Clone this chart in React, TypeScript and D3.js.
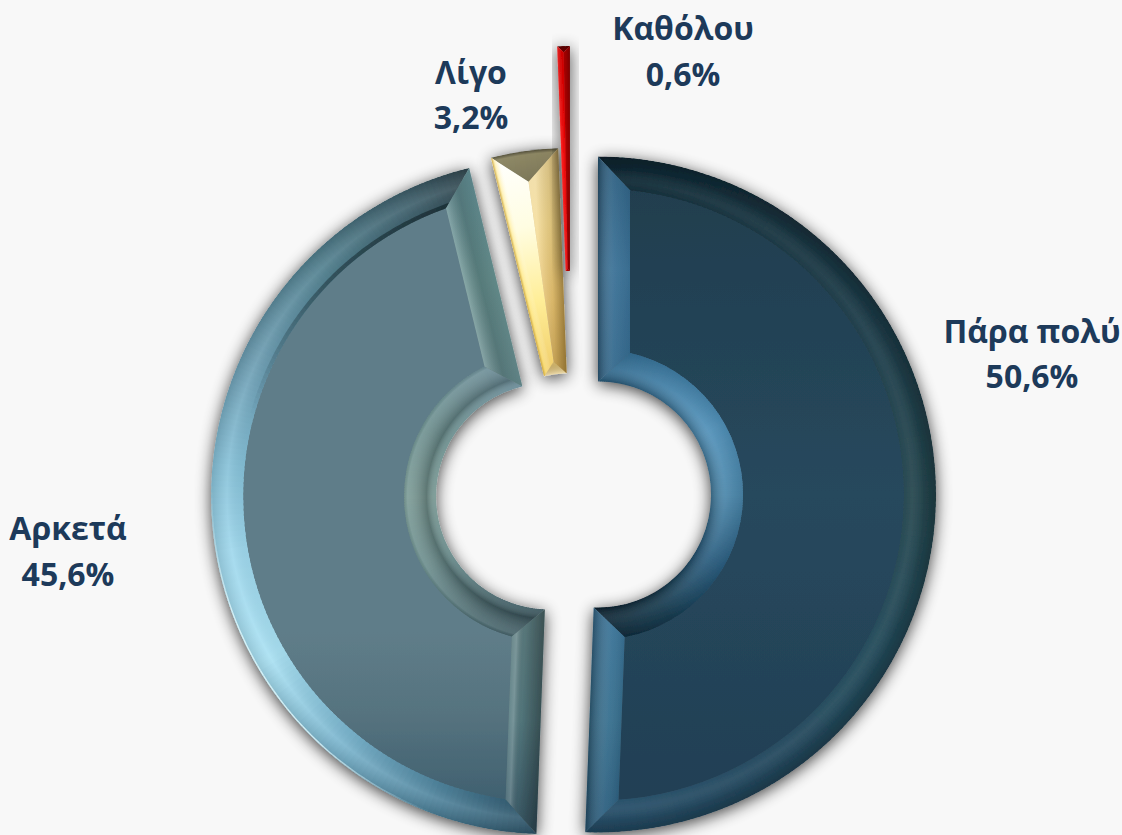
import React from 'react'
import * as d3 from 'd3'

const categories = ['Πάρα πολύ', 'Αρκετά', 'Λίγο', 'Καθόλου']
const values = [50.6, 45.6, 3.2, 0.6]
const valueLabels = ['50,6%', '45,6%', '3,2%', '0,6%']

const WIDTH = 1122
const HEIGHT = 835
const CENTER_X = 572
const CENTER_Y = 494
const OUTER_R = 338
const INNER_R = 113
const BEVEL = 32

// how far each slice is pulled out of the ring
const explode = [26, 23, 8, 110]

// label anchor and the two baselines
const labelPos = [
  { x: 1032, y1: 343, y2: 388 },
  { x: 68, y1: 540, y2: 586 },
  { x: 471, y1: 84, y2: 129 },
  { x: 683, y1: 40, y2: 86 },
]

type Stop = [number, string, number]

// bevel looks, one entry per slice
// ramps are [screen angle in degrees, colour]
const looks: any[] = [
  {
    face: [[0, '#1f3d4d'], [0.5, '#27485d'], [1, '#213f54']],
    outer: [[0, '#0e2733'], [30, '#17333f'], [60, '#1e3d4a'], [90, '#25474f'], [120, '#234a5a'], [150, '#24495f'], [183, '#27506b']],
    inner: [[0, '#2c6488'], [30, '#3f7ca3'], [60, '#5090b8'], [90, '#4a86aa'], [120, '#2a5d7f'], [150, '#15394d'], [183, '#0c2230']],
    outerCross: [[0, '#000', 0.25], [0.35, '#000', 0.1], [0.75, '#fff', 0.06], [1, '#fff', 0.02]],
    innerCross: [[0, '#000', 0.25], [0.45, '#fff', 0.08], [1, '#000', 0.08]],
    startEdge: { along: ['#2d5f80', '#3c7297', '#33688c'], cross: [[0, '#000', 0.3], [0.5, '#fff', 0.05], [1, '#000', 0.05]], width: BEVEL },
    endEdge: { along: ['#2a5c7c', '#38708f', '#3a7398'], cross: [[0, '#000', 0.3], [0.6, '#fff', 0.05], [1, '#000', 0.08]], width: BEVEL },
  },
  {
    face: [[0, '#5f7d89'], [0.7, '#5f7d89'], [0.82, '#56737f'], [1, '#37596a']],
    outer: [[182, '#2c5266'], [200, '#4d819a'], [220, '#79b4cd'], [240, '#a8e0f2'], [260, '#9ed7ec'], [275, '#86c1d8'], [295, '#6a9bb0'], [315, '#51808f'], [335, '#3d5e6a'], [347, '#2f444c']],
    inner: [[182, '#3d5860'], [210, '#4b696f'], [240, '#6a8c8c'], [270, '#7a9a95'], [300, '#6d9090'], [330, '#6d8f97'], [347, '#6a8c99']],
    outerCross: [[0, '#000', 0.12], [0.5, '#fff', 0.1], [1, '#000', 0.04]],
    innerCross: [[0, '#fff', 0.05], [0.3, '#000', 0.22], [0.9, '#fff', 0.1], [1, '#000', 0.05]],
    startEdge: { along: ['#3a5a68', '#557a80', '#5d7d80'], cross: [[0, '#000', 0.35], [0.6, '#000', 0.05], [0.85, '#fff', 0.2], [1, '#fff', 0.1]], width: BEVEL },
    endEdge: { along: ['#5f8a90', '#66908f', '#64898c'], cross: [[0, '#000', 0.05], [0.5, '#000', 0.15], [1, '#fff', 0.22]], width: BEVEL },
    // thin light rim on the lit side, dark crease where the top bevel meets the face
    rim: [[200, 'rgba(225,248,252,0)'], [225, 'rgba(225,248,252,0.85)'], [250, 'rgba(225,248,252,0.85)'], [272, 'rgba(225,248,252,0)']],
    crease: [[285, 'rgba(15,30,35,0)'], [315, 'rgba(15,30,35,0.45)'], [340, 'rgba(15,30,35,0.6)']],
  },
  {
    face: [[0, '#fff4c8'], [1, '#fff4c8']],
    outer: [[346, '#8f8a68'], [358, '#8a8360']],
    inner: [[346, '#dcbc6c'], [358, '#e3c574']],
    outerCross: [[0, '#000', 0.4], [0.12, '#000', 0], [1, '#000', 0.12]],
    innerCross: [[0, '#fff', 0.4], [1, '#000', 0.05]],
    startEdge: { along: ['#ffffff', '#fffde2', '#ffee98', '#f0cc68'], cross: [[0, '#c9a23a', 0.95], [0.1, '#ffe680', 0.5], [0.35, '#fff', 0], [1, '#fff', 0]], width: 26 },
    endEdge: { along: ['#ecd79c', '#f3d98f', '#eeca78', '#d0ab5c'], cross: [[0, '#5e4410', 0.55], [0.45, '#5e4410', 0.15], [1, '#fff', 0.2]], width: 24 },
  },
  {
    face: [[0, '#d80000'], [1, '#d80000']],
    outer: [[357, '#6a0000'], [361, '#6a0000']],
    inner: [[357, '#b00000'], [361, '#b00000']],
    outerCross: [[0, '#000', 0.2], [1, '#000', 0]],
    innerCross: [[0, '#000', 0], [1, '#000', 0]],
    startEdge: { along: ['#e00000', '#ff0000', '#f00000'], cross: [[0, '#fff', 0.15], [1, '#000', 0.1]], width: 5 },
    endEdge: { along: ['#a00000', '#b80000', '#a80000'], cross: [[0, '#000', 0.25], [1, '#000', 0]], width: 5 },
  },
]

const deg = (a: number) => (a * 180) / Math.PI
const pt = (r: number, a: number): [number, number] => [r * Math.sin(a), -r * Math.cos(a)]
const cv = (a: number) => a - Math.PI / 2

const pie = d3.pie<number>().sort(null).startAngle(0).endAngle(2 * Math.PI)
const slices = pie(values)

function ringPath(r1: number, r2: number, a0: number, a1: number, b0: number, b1: number) {
  // from r1 clockwise a0..a1, back along r2 over b1..b0
  const p = d3.path()
  p.moveTo(...pt(r1, a0))
  p.arc(0, 0, r1, cv(a0), cv(a1))
  p.lineTo(...pt(r2, b1))
  p.arc(0, 0, r2, cv(b1), cv(b0), true)
  p.closePath()
  return p.toString()
}

function polyPath(points: [number, number][]) {
  return (d3.line()(points) || '') + 'Z'
}

function Stops({ list }: { list: Stop[] }) {
  return (
    <>
      {list.map((s, i) => (
        <stop key={i} offset={s[0]} stopColor={s[1]} stopOpacity={s[2]} />
      ))}
    </>
  )
}

function Bevel({ id, d, ramp, a0, a1, rA, rB, overlap = 0.01 }: any) {
  // curved facet: short ring pieces coloured by angle, cut to the mitred facet
  const colour = d3
    .scaleLinear<string>()
    .domain(ramp.map((r: any) => r[0]))
    .range(ramp.map((r: any) => r[1]))
    .interpolate(d3.interpolateRgb)
    .clamp(true)
  const step = (a1 - a0) / Math.max(2, Math.ceil(deg(a1 - a0)))
  const pieces = d3.range(a0, a1 - step / 2, step)
  const arc = d3.arc<any>()
  return (
    <g clipPath={`url(#${id})`}>
      <clipPath id={id}>
        <path d={d} />
      </clipPath>
      {pieces.map((a: number, i: number) => (
        <path
          key={i}
          fill={colour(deg(a + step / 2))}
          d={arc({ innerRadius: rA, outerRadius: rB, startAngle: a, endAngle: a + step + overlap }) || ''}
        />
      ))}
    </g>
  )
}

function Slice({ i }: { i: number }) {
  const s = slices[i]
  const look = looks[i]
  const a0 = s.startAngle
  const a1 = s.endAngle
  const half = (a1 - a0) / 2
  const sn = Math.sin(half)
  const mid = (a0 + a1) / 2
  const [ox, oy] = pt(explode[i], mid)

  // a slice too thin for the full bevel closes to a ridge
  const bo = half < Math.PI / 4 ? Math.min(BEVEL, (OUTER_R * sn) / (1 + sn)) : BEVEL
  const bi = half < Math.PI / 4 ? Math.min(BEVEL, (INNER_R * sn) / (1 - sn)) : BEVEL
  const Ro = OUTER_R - bo
  const Ri = INNER_R + bi
  const dO = Math.min(half, Math.asin(Math.min(1, BEVEL / Ro)))
  const dI = Math.min(half, Math.asin(Math.min(1, BEVEL / Ri)))

  const outerD = ringPath(OUTER_R, Ro, a0, a1, a0 + dO, a1 - dO)
  const innerD = ringPath(Ri, INNER_R, a0 + dI, a1 - dI, a0, a1)
  const faceD = ringPath(Ro, Ri, a0 + dO, a1 - dO, a0 + dI, a1 - dI)
  const startD = polyPath([pt(OUTER_R, a0), pt(Ro, a0 + dO), pt(Ri, a0 + dI), pt(INNER_R, a0)])
  const endD = polyPath([pt(OUTER_R, a1), pt(Ro, a1 - dO), pt(Ri, a1 - dI), pt(INNER_R, a1)])

  const edgeGrad = (name: string, a: number, sign: number, edge: any) => {
    const rm = (OUTER_R + INNER_R) / 2
    const P = pt(rm, a)
    const A = pt(OUTER_R, a)
    const B = pt(INNER_R, a)
    const along = d3.scaleLinear().domain([0, edge.along.length - 1]).range([0, 1])
    return (
      <>
        <linearGradient id={`${name}-a-${i}`} gradientUnits="userSpaceOnUse" x1={A[0]} y1={A[1]} x2={B[0]} y2={B[1]}>
          {edge.along.map((c: string, k: number) => (
            <stop key={k} offset={along(k)} stopColor={c} />
          ))}
        </linearGradient>
        <linearGradient
          id={`${name}-c-${i}`}
          gradientUnits="userSpaceOnUse"
          x1={P[0]}
          y1={P[1]}
          x2={P[0] + sign * edge.width * Math.cos(a)}
          y2={P[1] + sign * edge.width * Math.sin(a)}
        >
          <Stops list={edge.cross} />
        </linearGradient>
      </>
    )
  }

  return (
    <g transform={`translate(${CENTER_X + ox},${CENTER_Y + oy})`}>
      <defs>
        <linearGradient id={`face-${i}`} gradientUnits="userSpaceOnUse" x1={0} y1={-OUTER_R} x2={0} y2={OUTER_R}>
          {look.face.map((f: any, k: number) => (
            <stop key={k} offset={f[0]} stopColor={f[1]} />
          ))}
        </linearGradient>
        <radialGradient id={`oc-${i}`} gradientUnits="userSpaceOnUse" cx={0} cy={0} r={OUTER_R}>
          {look.outerCross.map((c: Stop, k: number) => (
            <stop key={k} offset={1 - (c[0] * bo) / OUTER_R} stopColor={c[1]} stopOpacity={c[2]} />
          )).reverse()}
        </radialGradient>
        <radialGradient id={`ic-${i}`} gradientUnits="userSpaceOnUse" cx={0} cy={0} r={Ri}>
          {look.innerCross.map((c: Stop, k: number) => (
            <stop key={k} offset={(INNER_R + c[0] * bi) / Ri} stopColor={c[1]} stopOpacity={c[2]} />
          ))}
        </radialGradient>
        {edgeGrad('se', a0, 1, look.startEdge)}
        {edgeGrad('ee', a1, -1, look.endEdge)}
      </defs>

      <path d={faceD} fill={`url(#face-${i})`} stroke={`url(#face-${i})`} strokeWidth={0.5} />
      <Bevel id={`ob-${i}`} d={outerD} ramp={look.outer} a0={a0} a1={a1} rA={Ro - 1} rB={OUTER_R} />
      <path d={outerD} fill={`url(#oc-${i})`} />
      {look.crease && <Bevel id={`cr-${i}`} d={outerD} ramp={look.crease} a0={a0} a1={a1} rA={Ro - 1} rB={Ro + 4} overlap={0} />}
      {look.rim && <Bevel id={`rm-${i}`} d={outerD} ramp={look.rim} a0={a0} a1={a1} rA={OUTER_R - 1.5} rB={OUTER_R} overlap={0} />}
      <Bevel id={`ib-${i}`} d={innerD} ramp={look.inner} a0={a0} a1={a1} rA={INNER_R} rB={Ri + 1} />
      <path d={innerD} fill={`url(#ic-${i})`} />
      <path d={startD} fill={`url(#se-a-${i})`} />
      <path d={startD} fill={`url(#se-c-${i})`} />
      <path d={endD} fill={`url(#ee-a-${i})`} />
      <path d={endD} fill={`url(#ee-c-${i})`} />
    </g>
  )
}

export default function App() {
  return (
    <svg
      width={WIDTH}
      height={HEIGHT}
      viewBox={`0 0 ${WIDTH} ${HEIGHT}`}
      style={{ position: 'fixed', left: 0, top: 0, display: 'block' }}
    >
      <defs>
        <filter id="shadow" x="-30%" y="-30%" width="160%" height="160%">
          <feGaussianBlur in="SourceAlpha" stdDeviation="8" />
          <feOffset dx="0" dy="3" />
          <feComponentTransfer>
            <feFuncA type="linear" slope="0.75" />
          </feComponentTransfer>
          <feMerge>
            <feMergeNode />
            <feMergeNode in="SourceGraphic" />
          </feMerge>
        </filter>
      </defs>
      <rect width={WIDTH} height={HEIGHT} fill="#f8f8f8" />
      {slices.map((s, i) => (
        <g key={i} filter="url(#shadow)">
          <Slice i={i} />
        </g>
      ))}
      <g fontFamily="'Open Sans', sans-serif" fontWeight={700} fontSize={32} fill="#1d3a5a" textAnchor="middle">
        {categories.map((c, i) => (
          <g key={c}>
            <text x={labelPos[i].x} y={labelPos[i].y1}>{c}</text>
            <text x={labelPos[i].x} y={labelPos[i].y2}>{valueLabels[i]}</text>
          </g>
        ))}
      </g>
    </svg>
  )
}
